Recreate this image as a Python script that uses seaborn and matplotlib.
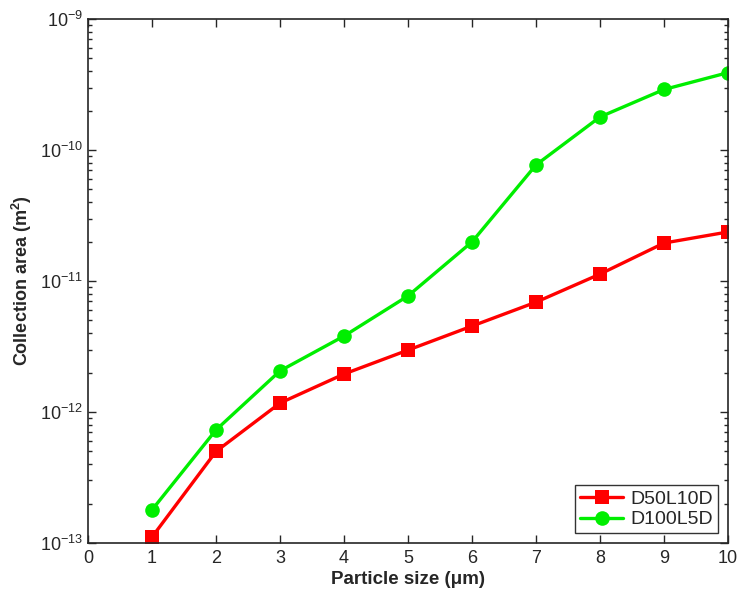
import matplotlib
matplotlib.use("Agg")
import matplotlib.pyplot as plt
import seaborn as sns
import pandas as pd
import numpy as np
from matplotlib.ticker import LogLocator, NullFormatter

sns.set_style("ticks")
plt.rcParams['font.family'] = ['Liberation Sans', 'DejaVu Sans']
plt.rcParams['mathtext.fontset'] = 'custom'
plt.rcParams['mathtext.rm'] = 'Liberation Sans'
plt.rcParams['mathtext.bf'] = 'Liberation Sans:bold'
plt.rcParams['mathtext.it'] = 'Liberation Sans:italic'

particle_size = [1, 2, 3, 4, 5, 6, 7, 8, 9, 10]
d50l10d = [1.11e-13, 5.0e-13, 1.17e-12, 1.95e-12, 2.97e-12, 4.53e-12, 6.9e-12, 1.13e-11, 1.95e-11, 2.37e-11]
d100l5d = [1.79e-13, 7.3e-13, 2.06e-12, 3.8e-12, 7.7e-12, 1.99e-11, 7.7e-11, 1.79e-10, 2.9e-10, 3.9e-10]
series_names = ['D50L10D', 'D100L5D']
x_ticks = list(range(0, 11))

df = pd.DataFrame({
    'x': particle_size * 2,
    'y': d50l10d + d100l5d,
    'series': [series_names[0]] * len(particle_size) + [series_names[1]] * len(particle_size),
})

fig = plt.figure(figsize=(7.42, 5.92), dpi=100)
ax = fig.add_axes([0.1186, 0.0828, 0.8626, 0.885])

sns.lineplot(data=df, x='x', y='y', hue='series', style='series',
             palette={'D50L10D': '#ff0000', 'D100L5D': '#00ee00'},
             markers={'D50L10D': 's', 'D100L5D': 'o'}, dashes=False,
             linewidth=2.4, markersize=10.5, markeredgewidth=0, ax=ax)

ax.set_yscale('log')
ax.set_xlim(0, 10)
ax.set_ylim(1e-13, 1e-9)
ax.set_xticks(x_ticks)
ax.set_xticklabels([str(t) for t in x_ticks])
ax.yaxis.set_major_locator(LogLocator(base=10, numticks=10))
ax.yaxis.set_minor_locator(LogLocator(base=10, subs=np.arange(2, 10), numticks=20))
ax.yaxis.set_minor_formatter(NullFormatter())
ax.tick_params(which='both', direction='in', top=True, right=True, labelsize=13, width=1)
ax.tick_params(which='major', length=6)
ax.tick_params(which='minor', length=3)
ax.tick_params(axis='x', pad=5)
ax.xaxis.get_offset_text().set_visible(False)
ax.yaxis.get_offset_text().set_visible(False)
for s in ax.spines.values():
    s.set_linewidth(1.2)
    s.set_visible(True)

ax.set_xlabel('Particle size (\u03bcm)', fontsize=13.5, fontweight='bold', labelpad=3)
ax.set_ylabel(r'Collection area (m$^\mathbf{2}$)', fontsize=13, fontweight='bold')
ax.yaxis.set_label_coords(-0.085, 0.5)

leg = ax.legend(loc='lower right', fontsize=14, frameon=True, fancybox=False,
                edgecolor='black', borderpad=0.25, handlelength=2.2, labelspacing=0.15,
                borderaxespad=0.5, handletextpad=0.4)
leg.get_frame().set_linewidth(1.0)
leg.set_title(None)

fig.savefig('out.png', dpi=100)
